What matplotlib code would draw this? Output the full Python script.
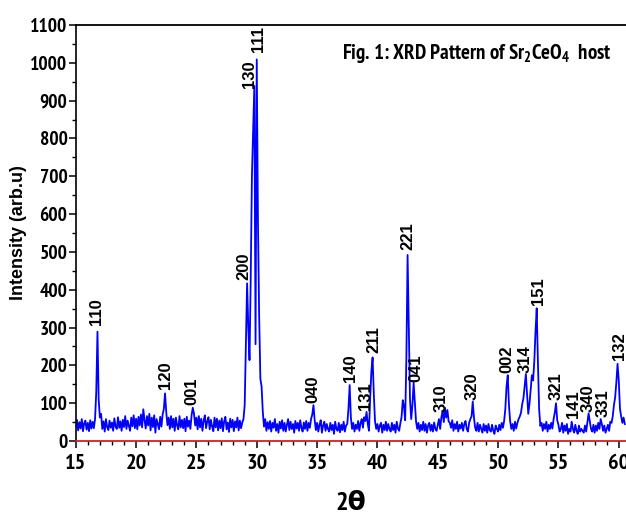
import numpy as np
import matplotlib.pyplot as plt
from matplotlib import font_manager as fm
from matplotlib.ticker import MultipleLocator

# pick a condensed sans (Arial Narrow look-alike)
installed = set(f.name for f in fm.fontManager.ttflist)
narrow_name = 'Liberation Sans'
for cand in ['Liberation Sans Narrow', 'Arial Narrow', 'PT Sans Narrow',
             'Roboto Condensed', 'Archivo Narrow', 'Asap Condensed']:
    if cand in installed:
        narrow_name = cand
        break
narrow = [narrow_name, 'DejaVu Sans']

plt.rcParams['font.family'] = ['Liberation Sans', 'DejaVu Sans']
plt.rcParams['mathtext.fontset'] = 'custom'
plt.rcParams['mathtext.rm'] = narrow_name + ':bold'
plt.rcParams['mathtext.default'] = 'rm'

# 2theta grid, 0.1 deg step (15.0 .. 60.5)
two_theta = np.round(np.arange(15.0, 60.55, 0.1), 1)

# intensity, one row per degree
intensity = [
    38, 56, 28, 50, 33, 58, 26, 47, 54, 30,       # 15
    48, 26, 55, 33, 51, 34, 58, 130, 289, 110,    # 16
    62, 72, 32, 52, 25, 58, 37, 29, 54, 35,       # 17
    49, 27, 60, 38, 32, 63, 35, 52, 27, 56,       # 18
    37, 66, 32, 54, 40, 27, 62, 39, 68, 34,       # 19
    59, 31, 64, 41, 70, 36, 84, 55, 33, 66,       # 20
    41, 72, 28, 62, 37, 68, 22, 58, 44, 31,       # 21
    64, 38, 70, 85, 126, 76, 42, 62, 32, 66,      # 22
    36, 59, 27, 62, 41, 31, 66, 36, 56, 34,       # 23
    59, 26, 64, 38, 54, 32, 68, 88, 72, 41,       # 24
    62, 31, 66, 36, 59, 27, 54, 68, 34, 52,       # 25
    63, 31, 56, 38, 26, 62, 36, 59, 28, 54,       # 26
    34, 60, 26, 52, 64, 31, 49, 24, 59, 36,       # 27
    56, 26, 52, 36, 62, 28, 54, 34, 49, 58,       # 28
    95, 250, 417, 300, 214, 430, 700, 820, 939, 256,  # 29
    1009, 580, 330, 165, 144, 78, 38, 58, 27, 50,     # 30
    32, 53, 25, 48, 35, 58, 27, 45, 22, 51,       # 31
    33, 55, 27, 48, 25, 43, 58, 29, 51, 32,       # 32
    45, 22, 53, 33, 48, 27, 55, 35, 25, 49,       # 33
    32, 53, 27, 48, 35, 58, 70, 95, 55, 29,       # 34
    48, 25, 43, 55, 22, 41, 51, 27, 45, 32,       # 35
    25, 48, 29, 43, 19, 51, 32, 27, 48, 23,       # 36
    43, 29, 51, 25, 41, 45, 85, 148, 62, 32,      # 37
    48, 25, 43, 32, 53, 27, 48, 58, 35, 63,       # 38
    53, 77, 45, 27, 115, 185, 221, 125, 52, 32,   # 39
    45, 25, 41, 48, 22, 43, 29, 51, 27, 45,       # 40
    32, 25, 48, 29, 43, 22, 51, 33, 27, 47,       # 41
    63, 108, 92, 55, 220, 492, 300, 110, 58, 95,  # 42
    154, 105, 52, 32, 48, 25, 43, 29, 51, 27,     # 43
    45, 22, 41, 48, 27, 43, 25, 49, 32, 27,       # 44
    43, 58, 32, 63, 78, 50, 88, 62, 82, 52,       # 45
    48, 35, 55, 27, 45, 32, 51, 25, 43, 33,       # 46
    48, 27, 45, 53, 32, 25, 48, 58, 65, 104,      # 47
    62, 35, 27, 48, 25, 43, 32, 22, 45, 27,       # 48
    41, 22, 45, 29, 25, 43, 27, 19, 41, 32,       # 49
    25, 43, 29, 48, 35, 53, 85, 145, 174, 95,     # 50
    52, 32, 45, 27, 51, 33, 48, 58, 65, 75,       # 51
    98, 113, 145, 177, 125, 72, 98, 135, 174, 160,  # 52
    210, 290, 351, 210, 85, 40, 48, 27, 45, 32,   # 53
    51, 25, 43, 32, 48, 33, 58, 75, 100, 55,      # 54
    43, 25, 32, 48, 22, 41, 27, 45, 19, 32,       # 55
    25, 51, 32, 22, 43, 27, 19, 41, 25, 32,       # 56
    27, 22, 41, 25, 48, 73, 53, 32, 25, 43,       # 57
    22, 41, 27, 48, 32, 58, 45, 27, 41, 22,       # 58
    32, 43, 27, 51, 48, 65, 95, 115, 155, 204,    # 59
    160, 85, 65, 48, 62, 45,                      # 60
]

# peak indexing labels
hkl = ['110', '120', '001', '200', '130', '111', '040', '140', '131', '211',
       '221', '041', '310', '320', '002', '314', '151', '321', '141', '340',
       '331', '132']
label_x = [16.72, 22.43, 24.6, 28.97, 29.44, 30.15, 34.69, 37.73, 38.99, 39.69,
           42.56, 43.19, 45.32, 47.88, 50.76, 52.28, 53.33, 54.8, 56.23, 57.5,
           58.72, 60.05]
label_y = [307, 137, 95, 427, 933, 1028, 100, 157, 82, 232,
           505, 157, 77, 108, 179, 181, 360, 108, 60, 77,
           64, 214]

fig = plt.figure(figsize=(6.26, 5.16), dpi=100)
ax = fig.add_axes([0.121, 0.1453, 0.879, 0.8062])

ax.plot(two_theta, intensity, color='#0000ff', lw=1.3)

for t, lx, ly in zip(hkl, label_x, label_y):
    ax.text(lx, ly, t, rotation=90, ha='center', va='bottom',
            fontsize=12, fontweight='bold', color='black')

ax.set_xlim(15, 60.6)
ax.set_ylim(0, 1100)
ax.xaxis.set_major_locator(MultipleLocator(5))
ax.xaxis.set_minor_locator(MultipleLocator(1))
ax.yaxis.set_major_locator(MultipleLocator(100))
ax.yaxis.set_minor_locator(MultipleLocator(50))
ax.tick_params(which='major', direction='out', length=5, width=1.1)
ax.tick_params(which='minor', direction='out', length=3, width=1.0)
ax.tick_params(axis='y', pad=1)
ax.tick_params(axis='x', pad=4)

for lab in ax.get_yticklabels():
    lab.set_family(narrow)
    lab.set_fontweight('bold')
    lab.set_fontsize(14)
for lab in ax.get_xticklabels():
    lab.set_family(narrow)
    lab.set_fontweight('bold')
    lab.set_fontsize(16)

ax.spines['right'].set_visible(False)
ax.spines['top'].set_linewidth(1.3)
ax.spines['left'].set_linewidth(1.2)
ax.spines['bottom'].set_color('#d02020')
ax.spines['bottom'].set_linewidth(1.3)

ax.set_ylabel('Intensity (arb.u)', fontsize=13, fontweight='bold', labelpad=2)
ax.set_xlabel('2θ', fontsize=19, fontweight='bold', family=narrow, labelpad=14)

fig.text(0.546, 0.886, 'Fig. 1: XRD Pattern of Sr$_2$CeO$_4$  host',
         fontsize=15, fontweight='bold', family=narrow, va='baseline')

fig.savefig('out.png', dpi=100)
